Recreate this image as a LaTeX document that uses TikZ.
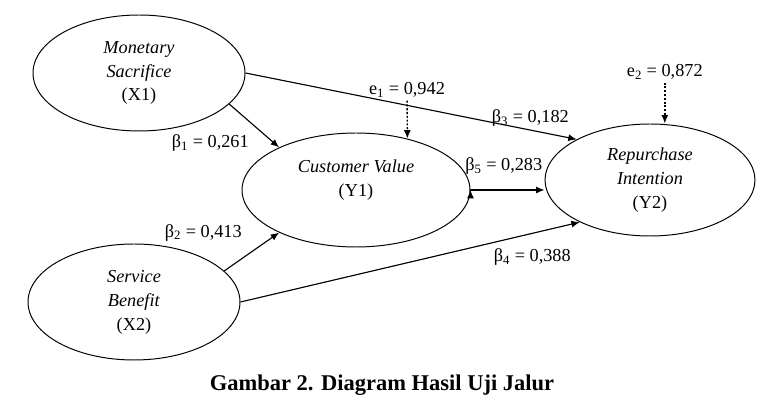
\documentclass[tikz,border=0pt]{standalone}
\usepackage{fontspec}
\setmainfont{Liberation Serif}
\usepackage{tikz}
\usetikzlibrary{positioning,shapes.geometric,arrows.meta}

\begin{document}
\begin{tikzpicture}[
		latent/.style={ellipse,draw,line width=0.7pt,inner sep=0pt,align=center,font=\fontsize{13}{17}\selectfont},
		coef/.style={font=\fontsize{13}{17}\selectfont,inner sep=2pt},
		>={Latex[length=6pt,width=5pt]}
	]
		\useasboundingbox (0,0) rectangle (19.5,-10);
		\draw 
			(3.475,-1.825) node [latent,minimum width=5.3cm,minimum height=2.9cm] (x1) {\textit{Monetary}\\\textit{Sacrifice}\\(X1)}
			(3.35,-7.55) node [latent,minimum width=5.3cm,minimum height=2.9cm] (x2) {\textit{Service}\\\textit{Benefit}\\(X2)}
			(8.9,-4.75) node [latent,minimum width=5.7cm,minimum height=2.85cm] (y1) {\textit{Customer Value}\\(Y1)\\\mbox{}}
			(16.25,-4.5) node [latent,minimum width=5.25cm,minimum height=2.8cm] (y2) {\textit{Repurchase}\\\textit{Intention}\\(Y2)}
			(10.175,-2.25) node [coef] (e1) {e\textsubscript{1} = 0,942}
			(16.62,-1.8) node [coef] (e2) {e\textsubscript{2} = 0,872}
			(9.55,-9.625) node [font=\bfseries\fontsize{16}{19}\selectfont] (cap) {Gambar 2. Diagram Hasil Uji Jalur}
			;
		\draw[->,line width=0.8pt]
			(x1.east) edge node [coef,pos=0.86,above] 	{β\textsubscript{3} = 0,182} (y2.151)
			(x1.-19) edge node [coef,pos=0.9,left=0.55cm] 	{β\textsubscript{1} = 0,261} (y1.151)
			(x2.19) edge node [coef,pos=1,left=0.85cm] 	{β\textsubscript{2} = 0,413} (y1.209)
			(x2.east) edge node [coef,pos=0.86,below=0.3cm] 	{β\textsubscript{4} = 0,388} (y2.211)
			(y1.east) edge node [coef,pos=0.45,above=0.3cm] 	{β\textsubscript{5} = 0,283} (y1.east -| y2.west)
			;
		\draw[->,line width=1pt,dash pattern=on 1.5pt off 1.2pt]
			(e1) edge (y1.45)
			(e2) edge (e2 |- y2.north)
			;
	\end{tikzpicture}
\end{document}
